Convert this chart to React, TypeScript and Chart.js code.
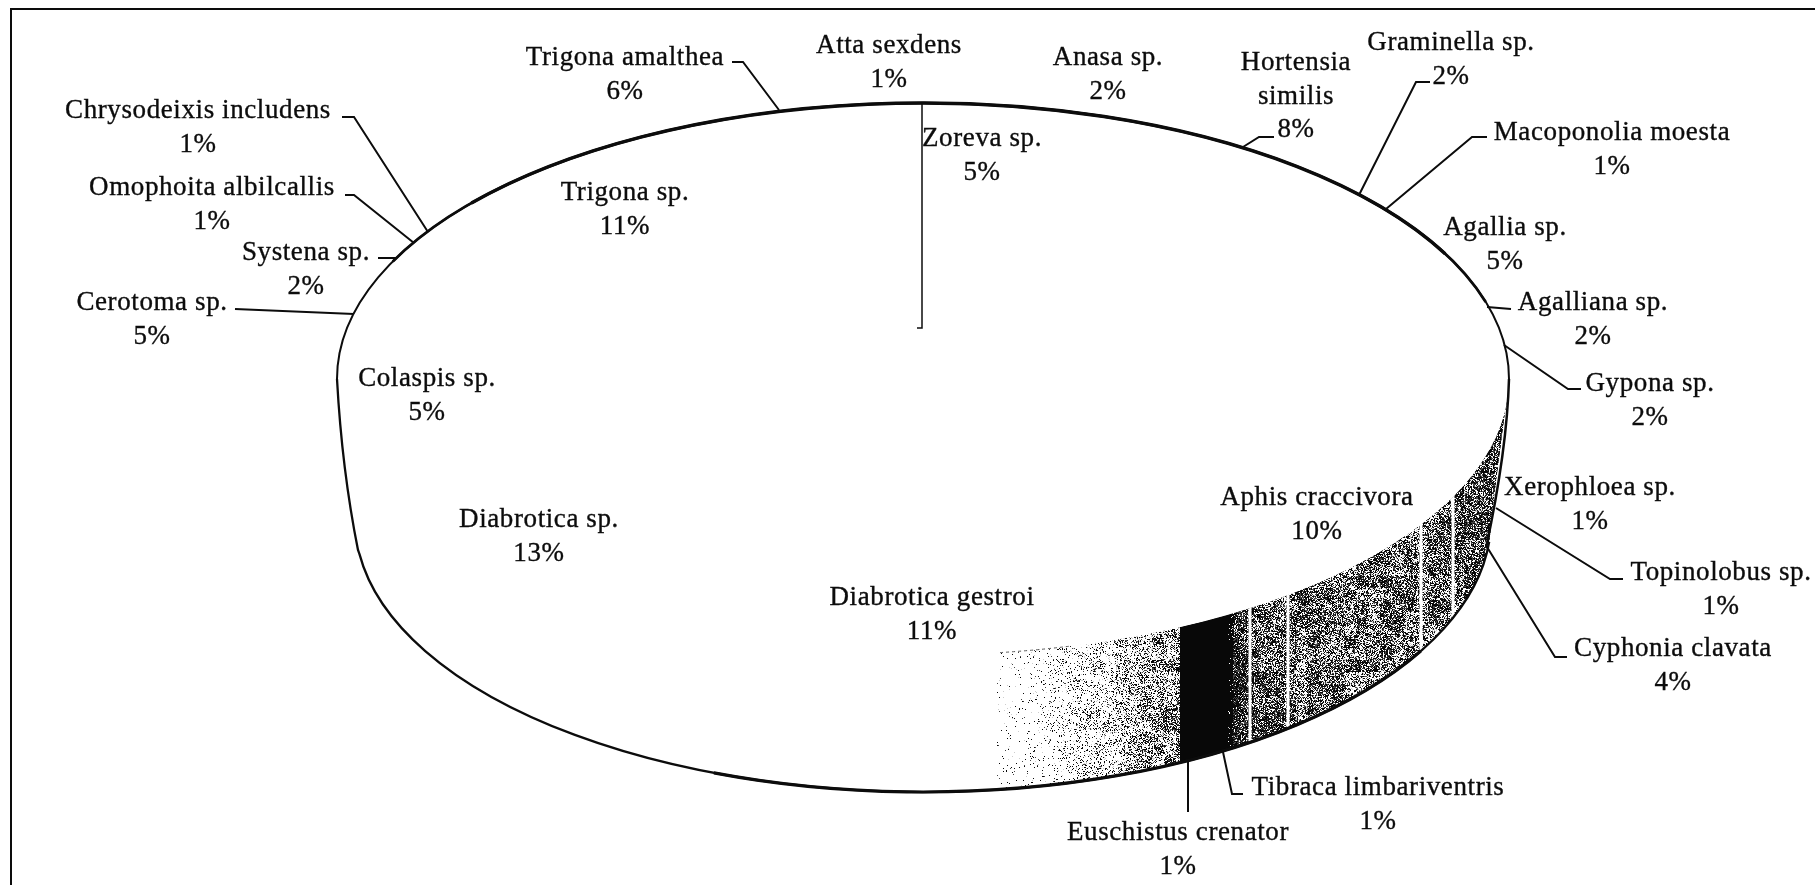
import React, { useEffect, useRef } from "react";
import { Chart, registerables } from "chart.js";

Chart.register(...registerables);

const categories = [
  "Zoreva sp.", "Anasa sp.", "Hortensia similis", "Graminella sp.", "Macoponolia moesta", "Agallia sp.",
  "Agalliana sp.", "Gypona sp.", "Xerophloea sp.", "Topinolobus sp.", "Cyphonia clavata", "Aphis craccivora",
  "Tibraca limbariventris", "Euschistus crenator", "Diabrotica gestroi", "Diabrotica sp.", "Colaspis sp.",
  "Cerotoma sp.", "Systena sp.", "Omophoita albilcallis", "Chrysodeixis includens", "Trigona sp.",
  "Trigona amalthea", "Atta sexdens",
];
const percentages = [5, 2, 8, 2, 1, 5, 2, 2, 1, 1, 4, 10, 1, 1, 11, 13, 5, 5, 2, 1, 1, 11, 6, 1];

// Side-wall ink density along each slice: [fraction of slice, density]
const sideTones: Record<string, number[][]> = {
  "Xerophloea sp.": [[0, 0.7], [1, 0.7]],
  "Topinolobus sp.": [[0, 0.72], [1, 0.72]],
  "Cyphonia clavata": [[0, 0.78], [1, 0.75]],
  "Aphis craccivora": [[0, 0.72], [0.12, 0.62], [0.5, 0.55], [0.85, 0.58], [1, 0.64]],
  "Tibraca limbariventris": [[0, 0.72], [0.4, 0.78], [0.6, 0.96], [1, 1]],
  "Euschistus crenator": [[0, 1], [1, 1]],
  "Diabrotica gestroi": [[0, 0.46], [0.08, 0.34], [0.16, 0.2], [0.24, 0.09], [0.3, 0.04], [0.37, 0.02], [0.4, 0]],
};
const whiteStripeColumns = [1250, 1288, 1421, 1453];

// Where each label sits: centre x, first-line centre y, and its lines
const labelX = [982, 1108, 1296, 1451, 1612, 1505, 1593, 1650, 1590, 1721, 1673, 1317, 1378, 1178, 932, 539, 427, 152, 306, 212, 198, 625, 625, 889];
const labelY = [139, 58, 63, 43, 133, 228, 303, 384, 488, 573, 649, 498, 788, 833, 598, 520, 379, 303, 253, 188, 111, 193, 58, 46];
const brokenNames: Record<string, string[]> = { "Hortensia similis": ["Hortensia", "similis"] };

const leaderLines: number[][][] = [
  [[732, 62], [743, 62], [779, 110]],
  [[342, 117], [354, 117], [428, 232]],
  [[345, 195], [354, 195], [414, 243]],
  [[378, 258], [396, 258]],
  [[235, 309], [354, 314]],
  [[1274, 137], [1259, 137], [1243, 147]],
  [[1430, 82], [1416, 82], [1359, 195]],
  [[1487, 137], [1472, 137], [1386, 209]],
  [[1511, 309], [1487, 307]],
  [[1581, 389], [1568, 389], [1504, 345]],
  [[1623, 579], [1610, 579], [1496, 508]],
  [[1567, 657], [1555, 657], [1487, 547]],
  [[1243, 794], [1232, 794], [1223, 752]],
  [[1188, 812], [1188, 760]],
];

const TOP = { cx: 923, cy: 379, rx: 586, ry: 276 };
const BASE = { cx: 923, cy: 520, rx: 568, ry: 272 };
const HUB_Y = 328;
const PERSPECTIVE = (HUB_Y - TOP.cy) / TOP.ry;
const SIDE_TURN = (-2.0 * Math.PI) / 180;
const FONT = '27px "Liberation Serif"';
const INK = "#0c0c0c";

function rimX(theta: number) {
  const u = Math.sin(theta);
  const v = -Math.cos(theta);
  const k = TOP.rx * Math.sqrt(1 - PERSPECTIVE * PERSPECTIVE);
  return TOP.cx + (u * k) / (1 + PERSPECTIVE * v);
}

// A fixed print-grain texture for the scanned side wall
const stippleCache = new Map<number, CanvasPattern>();
function stipple(ctx: CanvasRenderingContext2D, tone: number) {
  const key = Math.max(1, Math.round(tone * 50));
  const found = stippleCache.get(key);
  if (found) return found;
  const size = 192;
  const cell = 12;
  const coarse: number[] = [];
  let s = 4711;
  const next = () => {
    s = (s * 1103515245 + 12345) & 0x7fffffff;
    return ((s >> 8) & 1023) / 1023;
  };
  for (let i = 0; i < (size / cell) * (size / cell); i++) coarse.push(next());
  const c = document.createElement("canvas");
  c.width = size;
  c.height = size;
  const g = c.getContext("2d")!;
  const img = g.createImageData(size, size);
  s = 12345 + key * 97;
  const level = key / 50;
  const swing = level < 0.98 ? 0.22 * Math.min(level, 1 - level) * 2 : 0;
  for (let y = 0; y < size; y++) {
    for (let x = 0; x < size; x++) {
      const blot = coarse[Math.floor(y / cell) * (size / cell) + Math.floor(x / cell)] - 0.5;
      const on = level >= 0.98 || next() < level + blot * swing * 2;
      const p = (y * size + x) * 4;
      let shade = 255;
      if (on) shade = level < 0.95 && next() < 0.3 ? 70 : 8;
      else if (next() < level * 0.4) shade = 205;
      img.data[p] = img.data[p + 1] = img.data[p + 2] = shade;
      img.data[p + 3] = 255;
    }
  }
  g.putImageData(img, 0, 0);
  const pattern = ctx.createPattern(c, "repeat")!;
  stippleCache.set(key, pattern);
  return pattern;
}

function toneAt(stops: number[][], f: number) {
  if (f >= stops[stops.length - 1][0]) return stops[stops.length - 1][1];
  for (let i = 1; i < stops.length; i++) {
    if (f <= stops[i][0]) {
      const [a, ta] = stops[i - 1];
      const [b, tb] = stops[i];
      return ta + ((tb - ta) * (f - a)) / (b - a);
    }
  }
  return 0;
}

function sidePath(ctx: CanvasRenderingContext2D) {
  ctx.beginPath();
  ctx.ellipse(TOP.cx, TOP.cy, TOP.rx, TOP.ry, 0, 0, Math.PI);
  ctx.lineTo(BASE.cx - BASE.rx - 1, BASE.cy);
  ctx.ellipse(BASE.cx, BASE.cy, BASE.rx, BASE.ry, 0, Math.PI, 0, true);
  ctx.closePath();
}

const pieFaceSkew = {
  id: "pieFaceSkew",
  beforeDatasetsDraw(chart: any) {
    const { ctx } = chart;
    const arcs = chart.getDatasetMeta(0).data;
    ctx.save();
    sidePath(ctx);
    ctx.fillStyle = "#fff";
    ctx.fill();
    ctx.clip();
    arcs.forEach((arc: any, i: number) => {
      const stops = sideTones[categories[i]];
      if (!stops) return;
      const start = arc.startAngle + Math.PI / 2 + SIDE_TURN;
      const end = arc.endAngle + Math.PI / 2 + SIDE_TURN;
      const steps = 48;
      for (let n = 0; n < steps; n++) {
        const f = (n + 0.5) / steps;
        const tone = toneAt(stops, f);
        if (tone <= 0.005) continue;
        const a = rimX(start + ((end - start) * n) / steps);
        const b = rimX(start + ((end - start) * (n + 1)) / steps);
        const left = Math.floor(Math.min(a, b));
        const right = Math.ceil(Math.max(a, b));
        ctx.fillStyle = stipple(ctx, tone);
        ctx.fillRect(left, 300, right - left, 520);
      }
    });
    ctx.fillStyle = "#fff";
    whiteStripeColumns.forEach((x) => ctx.fillRect(x - 1.5, 300, 3, 520));
    ctx.restore();
    // the top face is the library's pie, squeezed into an ellipse
    const first = arcs[0];
    const r = first.outerRadius;
    ctx.save();
    ctx.translate(TOP.cx, TOP.cy);
    ctx.scale(TOP.rx / r, TOP.ry / r);
    ctx.translate(-first.x, -first.y);
  },
  afterDatasetsDraw(chart: any) {
    const { ctx } = chart;
    ctx.restore();
    const arcs = chart.getDatasetMeta(0).data;
    ctx.save();
    ctx.strokeStyle = INK;

    // page frame
    ctx.lineWidth = 2;
    ctx.beginPath();
    ctx.moveTo(1815, 9);
    ctx.lineTo(11, 9);
    ctx.lineTo(11, 885);
    ctx.stroke();

    // back rim of the top face, heavier across the top
    ([[1, 2, 2], [1.14, 1.91, 2.7], [1.22, 1.85, 3.4]] as number[][]).forEach(([a, b, w]) => {
      ctx.lineWidth = w;
      ctx.beginPath();
      ctx.ellipse(TOP.cx, TOP.cy, TOP.rx, TOP.ry, 0, Math.PI * a, Math.PI * b);
      ctx.stroke();
    });

    // faint front rim where the wall fades to white
    ctx.save();
    ctx.lineWidth = 1;
    ctx.setLineDash([3, 3]);
    ctx.strokeStyle = "#555";
    ctx.beginPath();
    ctx.ellipse(TOP.cx, TOP.cy, TOP.rx, TOP.ry, 0, Math.PI * 0.42, Math.PI * 0.458);
    ctx.stroke();
    ctx.restore();

    // wall outline
    ctx.lineWidth = 2.3;
    ctx.beginPath();
    ctx.moveTo(TOP.cx - TOP.rx, TOP.cy);
    ctx.quadraticCurveTo(342, 470, BASE.cx - BASE.rx + 3, BASE.cy + 30);
    ctx.ellipse(BASE.cx, BASE.cy, BASE.rx, BASE.ry, 0, Math.PI * 0.96, 0.08, true);
    ctx.stroke();
    ctx.lineWidth = 3.2;
    ctx.beginPath();
    ctx.ellipse(BASE.cx, BASE.cy, BASE.rx, BASE.ry, 0, Math.PI * 0.62, Math.PI * 0.16, true);
    ctx.stroke();
    ctx.lineWidth = 2.5;
    ctx.beginPath();
    ctx.moveTo(TOP.cx + TOP.rx, TOP.cy);
    ctx.quadraticCurveTo(1507, 450, 1486, 548);
    ctx.stroke();

    // first slice edge, from the pie's start angle
    const a0 = arcs[0].startAngle + Math.PI / 2;
    const edgeX = rimX(a0) - 1;
    ctx.lineWidth = 1.5;
    ctx.beginPath();
    ctx.moveTo(edgeX, TOP.cy - TOP.ry);
    ctx.lineTo(edgeX, HUB_Y);
    ctx.lineTo(edgeX - 5, HUB_Y);
    ctx.stroke();

    // leader lines
    ctx.lineWidth = 2;
    leaderLines.forEach((pts) => {
      ctx.beginPath();
      pts.forEach(([x, y], i) => (i ? ctx.lineTo(x, y) : ctx.moveTo(x, y)));
      ctx.stroke();
    });

    // labels
    ctx.fillStyle = INK;
    ctx.strokeStyle = INK;
    ctx.lineWidth = 0.35;
    ctx.font = FONT;
    ctx.textAlign = "center";
    ctx.textBaseline = "middle";
    (ctx as any).letterSpacing = "0.6px";
    categories.forEach((name, i) => {
      const lines = [...(brokenNames[name] || [name]), `${percentages[i]}%`];
      lines.forEach((line, n) => {
        ctx.fillText(line, labelX[i], labelY[i] + n * 33.5);
        ctx.strokeText(line, labelX[i], labelY[i] + n * 33.5);
      });
    });
    ctx.restore();
  },
};

export default function App() {
  const ref = useRef<HTMLCanvasElement>(null);
  useEffect(() => {
    document.body.style.margin = "0";
    document.body.style.background = "#fff";
    const chart = new Chart(ref.current!, {
      type: "pie",
      data: {
        labels: categories,
        datasets: [{ data: percentages, backgroundColor: "#ffffff", borderWidth: 0, clip: false } as any],
      },
      options: {
        responsive: false,
        animation: false,
        layout: { padding: 0 },
        plugins: { legend: { display: false }, tooltip: { enabled: false } },
      },
      plugins: [pieFaceSkew],
    } as any);
    return () => chart.destroy();
  }, []);
  return (
    <canvas
      ref={ref}
      width={1815}
      height={885}
      style={{ position: "absolute", left: 0, top: 0, display: "block", width: 1815, height: 885 }}
    />
  );
}
